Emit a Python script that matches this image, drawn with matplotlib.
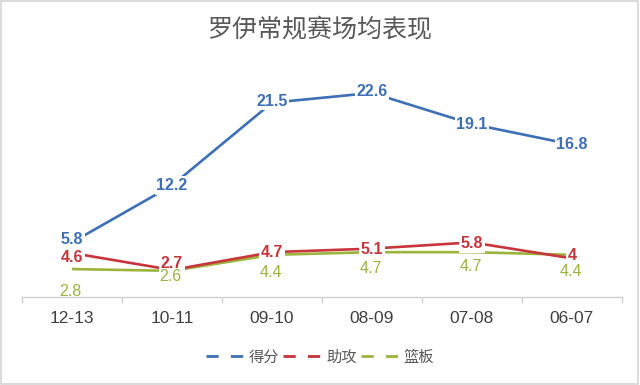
import numpy as np
import matplotlib
matplotlib.use("Agg")
import matplotlib.pyplot as plt
from matplotlib.lines import Line2D
from matplotlib.patches import Rectangle

plt.rcParams['font.family'] = ['Liberation Sans', 'Noto Sans CJK SC', 'DejaVu Sans']

# chart data
seasons = ["12-13", "10-11", "09-10", "08-09", "07-08", "06-07"]
points = [5.8, 12.2, 21.5, 22.6, 19.1, 16.8]
assists = [4.6, 2.7, 4.7, 5.1, 5.8, 4]
rebounds = [2.8, 2.6, 4.4, 4.7, 4.7, 4.4]
series_names = ["得分", "助攻", "篮板"]
title = "罗伊常规赛场均表现"

# label offsets in points (positive = downwards), matching the manual placement
points_dy = [-2, 0, -1, -1, 0, 0]
assist_dy = [3, -5, 0, 1, 1, -2]
rebound_dy = [16, 4, 13, 12, 10, 12]

blue = "#3D70B8"
red = "#C8353A"
green = "#9AB43C"

fig = plt.figure(figsize=(6.4, 3.85), dpi=100)
fig.patches.append(Rectangle((0.002, 0.003), 0.995, 0.994, transform=fig.transFigure,
                             fill=False, edgecolor="#D4D4D4", linewidth=1.2))
ax = fig.add_axes([22 / 640, 88 / 385, 600 / 640, 237 / 385])

x = np.arange(len(seasons))
lw = 1.9
ax.plot(x, rebounds, color=green, lw=lw, solid_capstyle="butt", zorder=2)
ax.plot(x, assists, color=red, lw=lw, solid_capstyle="butt", zorder=3)
ax.plot(x, points, color=blue, lw=lw, solid_capstyle="butt", zorder=4)

box = dict(boxstyle="square,pad=0.1", facecolor="white", edgecolor="none")
for i, v in enumerate(points):
    ax.annotate(f"{v:g}", (x[i], v), xytext=(0, -points_dy[i]), textcoords="offset points",
                ha="center", va="center", color=blue, fontsize=11.5,
                fontweight="bold", bbox=box, zorder=6)
for i, v in enumerate(assists):
    ax.annotate(f"{v:g}", (x[i], v), xytext=(0, -assist_dy[i]), textcoords="offset points",
                ha="center", va="center", color=red, fontsize=11.5,
                fontweight="bold", bbox=box, zorder=5)
for i, v in enumerate(rebounds):
    ax.annotate(f"{v:g}", (x[i], v), xytext=(-1, -rebound_dy[i]), textcoords="offset points",
                ha="center", va="center", color=green, fontsize=11.5, zorder=5)

ax.set_xlim(-0.5, len(seasons) - 0.5)
ax.set_ylim(-0.34, 26.3)
ax.set_yticks([])
for s in ["top", "right", "left"]:
    ax.spines[s].set_visible(False)
ax.spines["bottom"].set_color("#D0D0D0")
ax.spines["bottom"].set_linewidth(1.0)

ax.set_xticks(x)
ax.set_xticklabels(seasons, fontsize=12.5, color="#404040")
ax.tick_params(axis="x", which="major", length=0, pad=10)
ax.set_xticks(np.arange(len(seasons) + 1) - 0.5, minor=True)
ax.tick_params(axis="x", which="minor", length=4, color="#D0D0D0", width=1.0)

fig.text(0.5, 1 - 30 / 385, title, ha="center", va="center", fontsize=18,
         color="#595959", family=["Noto Sans CJK SC"], fontweight="light")

handles = [Line2D([], [], color=c, lw=2, linestyle=(0, (4.4, 4.4)))
           for c in (blue, red, green)]
fig.legend(handles, series_names, loc="center", bbox_to_anchor=(0.5, 1 - 357 / 385),
           ncol=3, frameon=False, handlelength=2.5, handletextpad=0.3,
           columnspacing=0.3, prop={"family": "Noto Sans CJK SC", "size": 11},
           labelcolor="#595959")

fig.savefig("out.png", dpi=100)
